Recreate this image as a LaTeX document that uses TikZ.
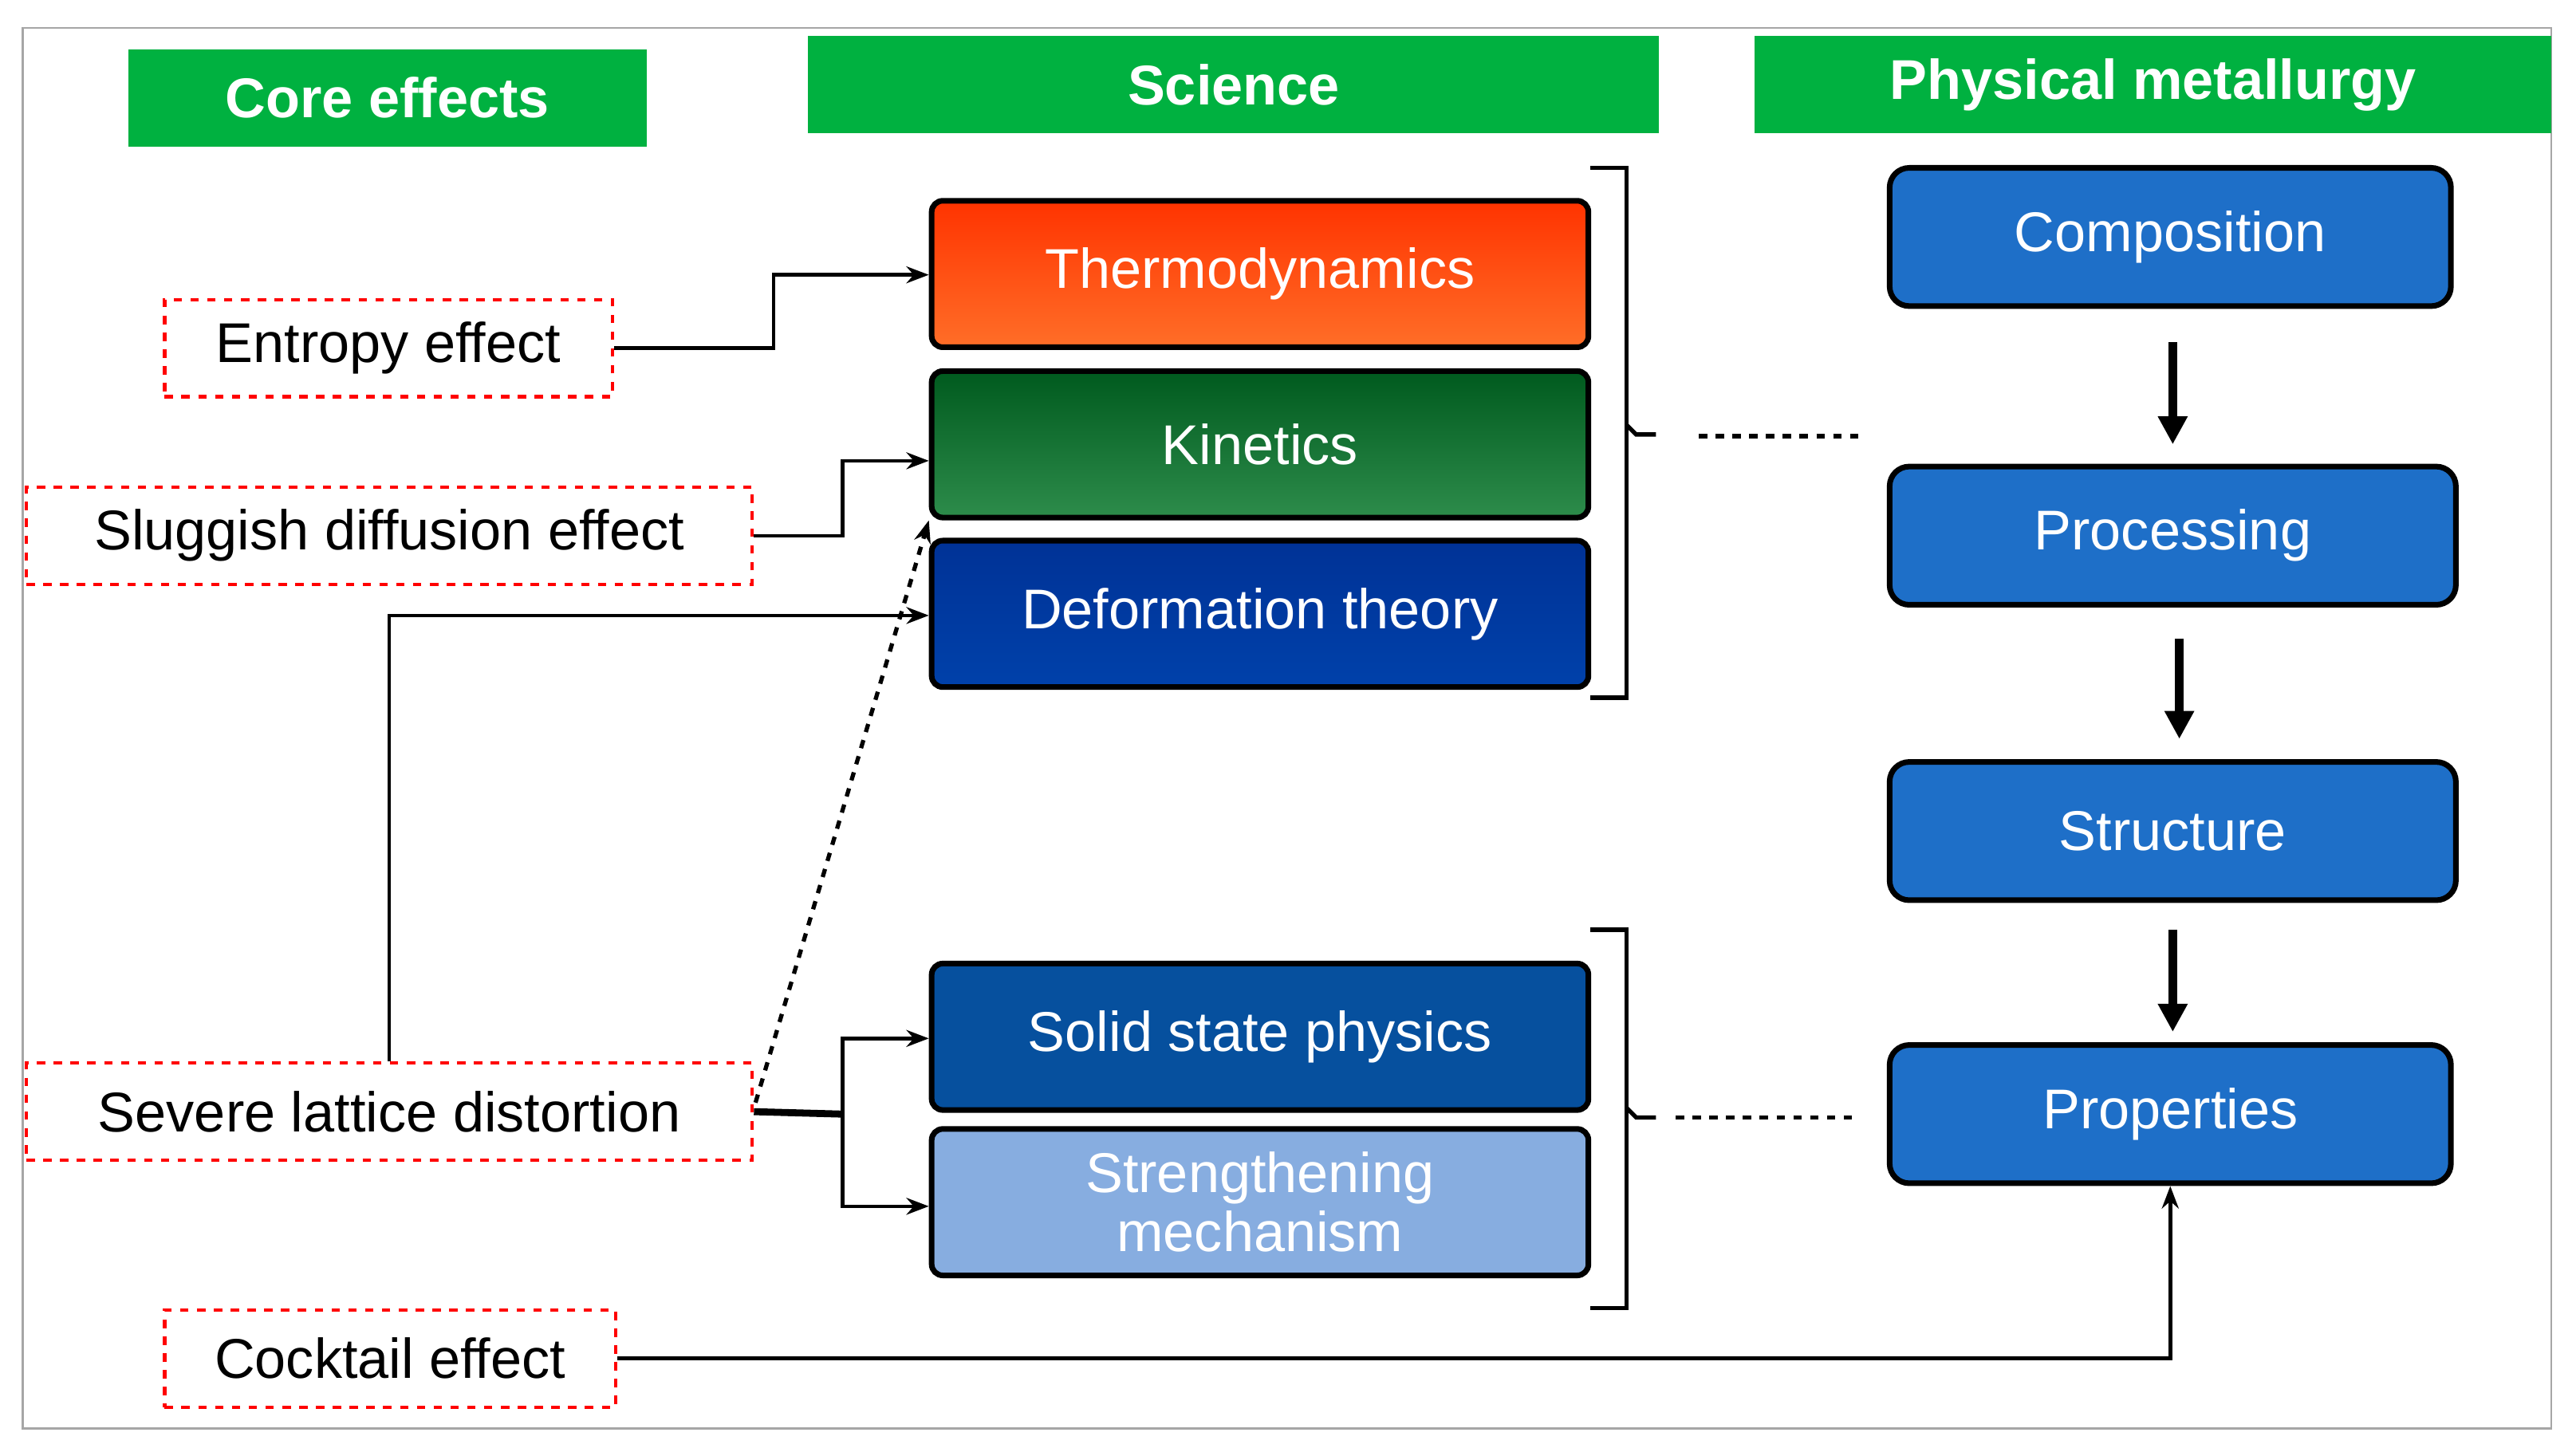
\documentclass[tikz,border=0pt]{standalone}
\usepackage{fontspec}
\setmainfont{Liberation Sans}
\usetikzlibrary{arrows.meta}
\def\u{0.02064cm}
\definecolor{hdr}{HTML}{00B140}
\definecolor{pm}{HTML}{1E6FC8}
\begin{document}
\begin{tikzpicture}[x=0.02064cm,y=-0.02064cm,
  hdr/.style={fill=hdr,text=white,font=\fontsize{20}{24}\selectfont\bfseries,inner sep=0pt},
  sci/.style={draw=black,line width=2pt,rounded corners=4pt,text=white,font=\fontsize{20}{22}\selectfont,minimum width=399*\u,minimum height=89*\u,inner sep=0pt,align=center},
  pmb/.style={draw=black,line width=2pt,rounded corners=7pt,fill=pm,text=white,font=\fontsize{20}{24}\selectfont,minimum height=84*\u,inner sep=0pt},
  eff/.style={draw=red,dashed,line width=1.2pt,font=\fontsize{20}{24}\selectfont,minimum height=59*\u,inner sep=0pt},
  con/.style={line width=1.3pt,-{Stealth[length=8pt,width=6pt]}},
  dn/.style={line width=3pt,-{Triangle[length=10pt,width=10pt]}}]
\useasboundingbox (0,0) rectangle (1565,882);
\draw[gray!70,line width=0.8pt] (14,17) rectangle (1550,868);
\node[hdr,minimum width=315*\u,minimum height=59*\u] (h1) at (235.5,59.5) {Core effects};
\node[hdr,minimum width=517*\u,minimum height=59*\u] (h2) at (749.5,51.5) {Science};
\node[hdr,minimum width=484*\u,minimum height=59*\u] (h3) at (1308,51.5) {Physical metallurgy};
\node[sci,top color=orange!40!red,bottom color={rgb,255:red,255;green,110;blue,40}] (th) at (765.5,166.5) {Thermodynamics};
\node[sci,top color={rgb,255:red,0;green,90;blue,30},bottom color={rgb,255:red,45;green,140;blue,75}] (ki) at (765.5,270) {Kinetics};
\node[sci,top color={rgb,255:red,0;green,50;blue,150},bottom color={rgb,255:red,0;green,65;blue,170}] (de) at (765.5,373) {Deformation theory};
\node[sci,fill={rgb,255:red,6;green,80;blue,158}] (ss) at (765.5,630) {Solid state physics};
\node[sci,fill={rgb,255:red,135;green,173;blue,224},font=\fontsize{20}{21}\selectfont] (sm) at (765.5,730.5) {Strengthening\\mechanism};
\node[pmb,minimum width=341*\u] (co) at (1318.5,144) {Composition};
\node[pmb,minimum width=344*\u] (pr) at (1320,325.5) {Processing};
\node[pmb,minimum width=344*\u] (st) at (1320,505) {Structure};
\node[pmb,minimum width=341*\u] (pp) at (1318.5,677) {Properties};
\coordinate (a1) at (1320,208); \coordinate (b1) at (1320,270);
\coordinate (a2) at (1324,388); \coordinate (b2) at (1324,449);
\coordinate (a3) at (1320,565); \coordinate (b3) at (1320,627);
\draw[dn] (a1)--(b1); \draw[dn] (a2)--(b2); \draw[dn] (a3)--(b3);
\draw[line width=1.5pt] (966,102)--(988,102)--(988,424)--(966,424);
\draw[line width=1.5pt] (988,258)--(994,264)--(1006,264);
\draw[line width=1.5pt] (966,565)--(988,565)--(988,795)--(966,795);
\draw[line width=1.5pt] (988,673)--(994,679)--(1006,679);
\coordinate (d1) at (1032,265); \coordinate (d2) at (1130,265);
\coordinate (d3) at (1018,679); \coordinate (d4) at (1130,679);
\draw[dashed,line width=1.5pt] (d1)--(d2);
\draw[dashed,line width=1.5pt] (d3)--(d4);
\node[eff,minimum width=272*\u] (en) at (236,211.5) {Entropy effect};
\node[eff,minimum width=441*\u] (sl) at (236.5,325.5) {Sluggish diffusion effect};
\node[eff,minimum width=441*\u] (se) at (236.5,675.5) {Severe lattice distortion};
\node[eff,minimum width=274*\u] (ck) at (237,825.5) {Cocktail effect};
\draw[con] (en.east)-|(470,167)--(th.west|-0,167);
\draw[con] (sl.east)-|(512,280)--(ki.west|-0,280);
\draw[con] (se.north)|-(de.west|-0,374);
\draw[line width=2.5pt] (se.east)--(512,677);
\draw[con] (512,677)|-(ss.west|-0,631);
\draw[con] (512,677)|-(sm.west|-0,733);
\draw[con,dashed,line width=1.5pt] (459,670)--(ki.south west);
\draw[con] (ck.east)-|(pp.south);
\end{tikzpicture}
\end{document}
